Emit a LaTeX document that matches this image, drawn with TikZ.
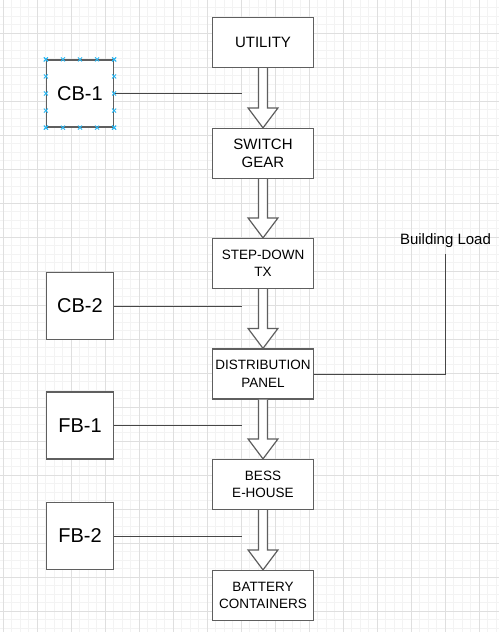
\documentclass[tikz,border=0pt]{standalone}
\usepackage{fontspec}
\setmainfont{Liberation Sans}
\usetikzlibrary{calc}
\definecolor{gridminor}{RGB}{243,243,243}
\definecolor{gridmajor}{RGB}{223,223,223}
\definecolor{boxline}{RGB}{95,95,95}
\definecolor{conline}{RGB}{70,70,70}
\definecolor{handlecol}{RGB}{41,182,242}
\newcommand\blockarrow[2]{%
  \draw[blockarr] ($(#1.south)+(-4.5,0)$) -- ($(#2.north)+(-4.5,-20)$)
    -- ($(#2.north)+(-15,-20)$) -- (#2.north) -- ($(#2.north)+(15,-20)$)
    -- ($(#2.north)+(4.5,-20)$) -- ($(#1.south)+(4.5,0)$);}
\begin{document}
\begin{tikzpicture}[x=1pt,y=-1pt,
  box/.style={draw=boxline, line width=1.2pt, fill=white, minimum width=101pt,
    minimum height=50pt, inner sep=0pt, align=center,
    font=\fontsize{13.5}{17.5}\selectfont},
  bigbox/.style={draw=boxline, line width=1.2pt, fill=white, minimum width=67pt,
    minimum height=67pt, inner sep=0pt, font=\fontsize{20}{24}\selectfont},
  conn/.style={draw=conline, line width=0.9pt},
  blockarr/.style={draw=boxline, line width=1.2pt, fill=white, line join=miter},
  handlemark/.style={draw=handlecol, line width=0.9pt}]
\useasboundingbox (0,0) rectangle (499,632);
\fill[white] (0,0) rectangle (499,632);
% grid
\foreach \i in {0,...,59} {\draw[gridminor, line width=0.8pt] ({-5.2+8.5*\i},0) -- ({-5.2+8.5*\i},632);}
\foreach \i in {0,...,75} {\draw[gridminor, line width=0.8pt] (0,{-0.7+8.5*\i}) -- (499,{-0.7+8.5*\i});}
\foreach \i in {0,...,14} {\draw[gridmajor, line width=0.8pt] ({3.3+34*\i},0) -- ({3.3+34*\i},632);}
\foreach \i in {0,...,18} {\draw[gridmajor, line width=0.8pt] (0,{-0.7+34*\i}) -- (499,{-0.7+34*\i});}
% main column
\node[box, font=\fontsize{15}{17.5}\selectfont] (util) at (263,42.5) {UTILITY};
\node[box, font=\fontsize{15}{17.5}\selectfont] (swg) at (263,153.5) {SWITCH\\GEAR};
\node[box] (sdt) at (263,263.5) {STEP-DOWN\\TX};
\node[box] (dp) at (263,374) {DISTRIBUTION\\PANEL};
\node[box] (bess) at (263,484.5) {BESS\\E-HOUSE};
\node[box] (bat) at (263,595.5) {BATTERY\\CONTAINERS};
% block arrows
\blockarrow{util}{swg}
\blockarrow{swg}{sdt}
\blockarrow{sdt}{dp}
\blockarrow{dp}{bess}
\blockarrow{bess}{bat}
% side boxes
\node[bigbox] (cb1) at (80,93.5) {CB-1};
\node[bigbox] (cb2) at (80,306) {CB-2};
\node[bigbox] (fb1) at (80,425.5) {FB-1};
\node[bigbox] (fb2) at (80,536) {FB-2};
\coordinate (cb1e) at (242,93.5);
\coordinate (cb2e) at (242,306);
\coordinate (fb1e) at (242,425.5);
\coordinate (fb2e) at (242,536);
\draw[conn] (cb1.east) -- (cb1e);
\draw[conn] (cb2.east) -- (cb2e);
\draw[conn] (fb1.east) -- (fb1e);
\draw[conn] (fb2.east) -- (fb2e);
% building load
\node[inner sep=0pt, font=\fontsize{15}{18}\selectfont] (bl) at (445.5,241) {Building Load};
\coordinate (blt) at ($(bl.south)+(0,6)$);
\draw[conn] (dp.east) -| (blt);
% selection handles on CB-1
\foreach \f in {0,0.25,0.5,0.75,1} {
  \coordinate (ha) at ($(cb1.north west)!\f!(cb1.north east)$);
  \coordinate (hb) at ($(cb1.south west)!\f!(cb1.south east)$);
  \coordinate (hc) at ($(cb1.north west)!\f!(cb1.south west)$);
  \coordinate (hd) at ($(cb1.north east)!\f!(cb1.south east)$);
  \foreach \h in {ha,hb,hc,hd} {
    \draw[handlemark] (\h) +(-2,-2) -- +(2,2) +(-2,2) -- +(2,-2);
  }
}
\end{tikzpicture}
\end{document}
